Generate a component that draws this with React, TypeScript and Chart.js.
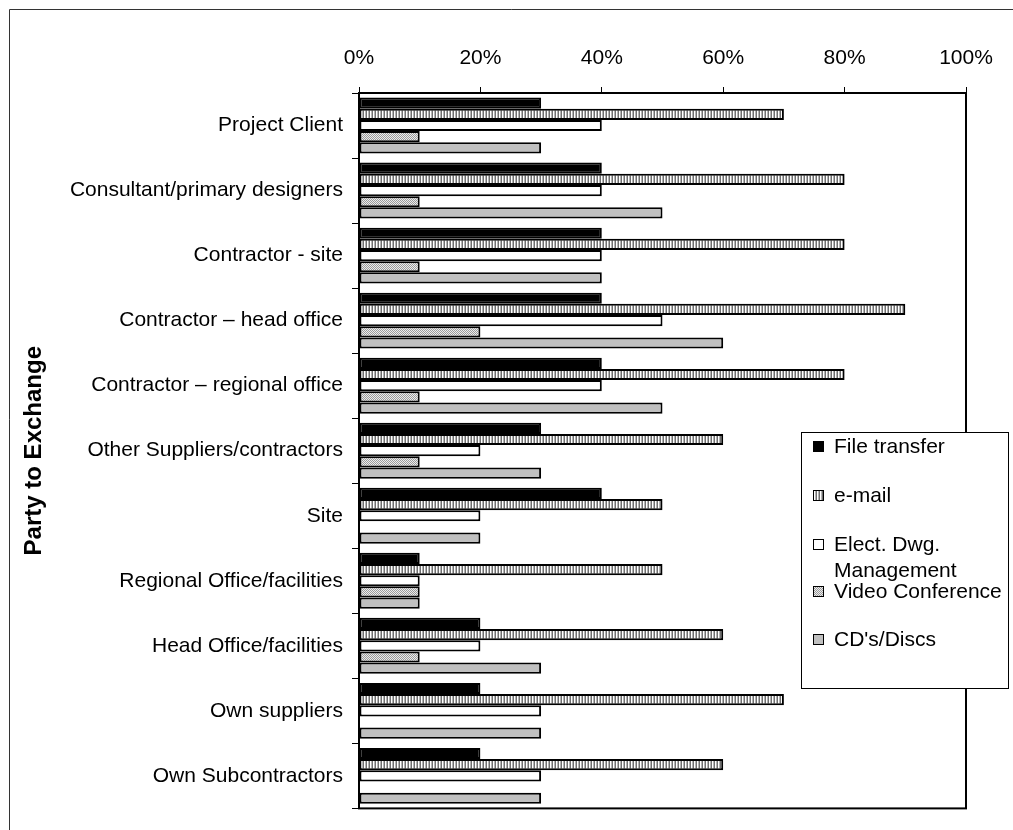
import { useEffect, useRef } from 'react';
import { Chart, registerables } from 'chart.js';

Chart.register(...registerables);

// Parties to the exchange (y categories)
const categories = [
  'Project Client',
  'Consultant/primary designers',
  'Contractor - site',
  'Contractor – head office',
  'Contractor – regional office',
  'Other Suppliers/contractors',
  'Site',
  'Regional Office/facilities',
  'Head Office/facilities',
  'Own suppliers',
  'Own Subcontractors',
];

// Share of respondents (%) per exchange method
const fileTransfer = [30, 40, 40, 40, 40, 30, 40, 10, 20, 20, 20];
const email = [70, 80, 80, 90, 80, 60, 50, 50, 60, 70, 60];
const electDwgMgmt = [40, 40, 40, 50, 40, 20, 20, 10, 20, 30, 30];
const videoConference = [10, 10, 10, 20, 10, 10, 0, 10, 10, 0, 0];
const cdDiscs = [30, 50, 40, 60, 50, 30, 20, 10, 30, 30, 30];

const seriesLabels = ['File transfer', 'e-mail', 'Elect. Dwg. Management', 'Video Conference', "CD's/Discs"];
const legendLines = [['File transfer'], ['e-mail'], ['Elect. Dwg.', 'Management'], ['Video Conference'], ["CD's/Discs"]];
const xTickValues = [0, 20, 40, 60, 80, 100];
const axisTitle = 'Party to Exchange';

const FONT = 'Arial, "Liberation Sans", sans-serif';

function makePattern(w: number, h: number, cells: string[][]): CanvasPattern | string {
  const c = document.createElement('canvas');
  c.width = w;
  c.height = h;
  const g = c.getContext('2d');
  if (!g) return '#999';
  for (let y = 0; y < h; y++) {
    for (let x = 0; x < w; x++) {
      g.fillStyle = cells[y][x];
      g.fillRect(x, y, 1, 1);
    }
  }
  const ctx = document.createElement('canvas').getContext('2d');
  return (ctx && ctx.createPattern(c, 'repeat')) || '#999';
}

export default function App() {
  const ref = useRef<HTMLCanvasElement | null>(null);

  useEffect(() => {
    const canvas = ref.current;
    if (!canvas) return;

    const stripes = makePattern(3, 1, [['#6f6f6f', '#ffffff', '#b4b4b4']]);
    const stipple = makePattern(2, 2, [
      ['#9a9a9a', '#ececec'],
      ['#ececec', '#9a9a9a'],
    ]);
    const fills: (string | CanvasPattern)[] = ['#000000', stripes, '#ffffff', stipple, '#c0c0c0'];
    const values = [fileTransfer, email, electDwgMgmt, videoConference, cdDiscs];

    const frame = {
      id: 'frame',
      beforeDraw(chart: Chart) {
        const { ctx, width, height } = chart;
        ctx.save();
        ctx.fillStyle = '#fff';
        ctx.fillRect(0, 0, width, height);
        ctx.strokeStyle = '#333';
        ctx.lineWidth = 1;
        ctx.beginPath();
        ctx.moveTo(9.5, height);
        ctx.lineTo(9.5, 9.5);
        ctx.lineTo(width, 9.5);
        ctx.stroke();
        ctx.restore();
      },
      afterDraw(chart: Chart) {
        const { ctx, chartArea: a } = chart;
        ctx.save();
        // plot area outline
        ctx.strokeStyle = '#000';
        ctx.lineWidth = 2;
        ctx.strokeRect(a.left, a.top, a.right - a.left, a.bottom - a.top);

        // legend box
        const lx = 801, ly = 432, lw = 207, lh = 256;
        ctx.fillStyle = '#fff';
        ctx.fillRect(lx, ly, lw, lh);
        ctx.strokeStyle = '#000';
        ctx.lineWidth = 1;
        ctx.strokeRect(lx + 0.5, ly + 0.5, lw, lh);

        const rows = [447, 496, 545, 592, 640];
        ctx.font = `21px ${FONT}`;
        ctx.textBaseline = 'middle';
        ctx.textAlign = 'left';
        rows.forEach((y, i) => {
          ctx.fillStyle = fills[i] as any;
          ctx.fillRect(813, y - 5, 10, 10);
          ctx.strokeStyle = '#000';
          ctx.lineWidth = 1;
          ctx.strokeRect(813.5, y - 5.5, 10, 10);
          ctx.fillStyle = '#000';
          legendLines[i].forEach((t, k) => {
            ctx.fillText(t, 834, y + k * 26);
          });
        });
        ctx.restore();
      },
    };

    const chart = new Chart(canvas, {
      type: 'bar',
      data: {
        labels: categories,
        datasets: values.map((d, i) => ({
          label: seriesLabels[i],
          data: d,
          backgroundColor: fills[i] as any,
          borderColor: '#000',
          borderWidth: 2,
          borderSkipped: false,
          categoryPercentage: 0.86,
          barPercentage: 1,
        })),
      },
      options: {
        indexAxis: 'y',
        responsive: false,
        animation: false,
        events: [],
        layout: { padding: { left: 10, top: 10, right: 47, bottom: 21 } },
        plugins: {
          legend: { display: false },
          tooltip: { enabled: false },
        },
        scales: {
          x: {
            position: 'top',
            min: 0,
            max: 100,
            afterBuildTicks: (s: any) => {
              s.ticks = xTickValues.map((v) => ({ value: v }));
            },
            afterFit: (s: any) => {
              s.height = 83;
            },
            ticks: {
              color: '#000',
              font: { family: FONT, size: 21 },
              padding: 16,
              maxRotation: 0,
              callback: (v: any) => `${v}%`,
            },
            grid: {
              drawOnChartArea: false,
              drawTicks: true,
              tickLength: 6,
              color: '#000',
              lineWidth: 1,
            },
            border: { display: true, color: '#000', width: 2 },
          },
          y: {
            afterFit: (s: any) => {
              s.width = 349;
            },
            ticks: {
              color: '#000',
              font: { family: FONT, size: 21 },
              padding: 9,
              autoSkip: false,
            },
            grid: {
              offset: true,
              drawOnChartArea: false,
              drawTicks: true,
              tickLength: 7,
              color: '#000',
              lineWidth: 1,
            },
            border: { display: true, color: '#000', width: 2 },
            title: {
              display: true,
              text: axisTitle,
              color: '#000',
              font: { family: FONT, size: 24, weight: 'bold' },
              padding: { top: 10, bottom: 0 },
            },
          },
        },
      },
      plugins: [frame],
    } as any);

    return () => chart.destroy();
  }, []);

  return (
    <div style={{ position: 'fixed', left: 0, top: 0, width: 1013, height: 830, background: '#fff' }}>
      <canvas ref={ref} width={1013} height={830} style={{ display: 'block' }} />
    </div>
  );
}
